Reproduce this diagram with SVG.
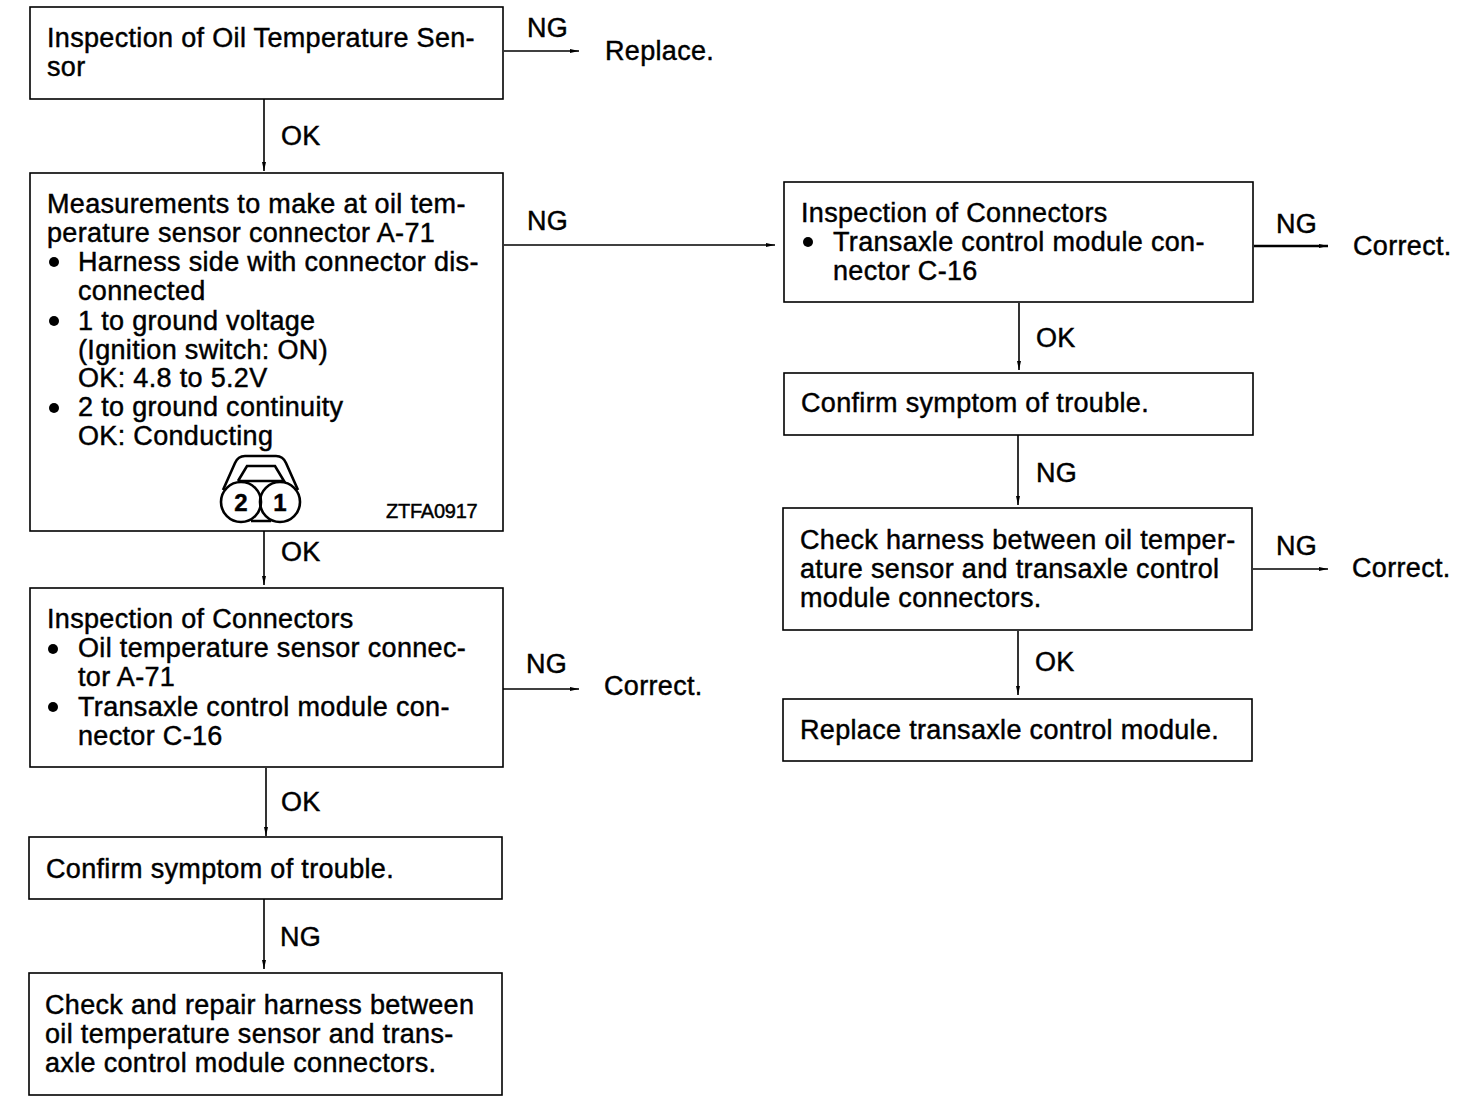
<svg xmlns="http://www.w3.org/2000/svg" width="1472" height="1112" viewBox="0 0 1472 1112">
<defs><marker id="a" markerUnits="userSpaceOnUse" markerWidth="10" markerHeight="6" refX="9" refY="3" orient="auto"><path d="M0 1L9 3L0 5Z" fill="#000"/></marker></defs>
<style>
text{font-family:"Liberation Sans",Arial,sans-serif;font-size:27px;fill:#000;stroke:#000;stroke-width:.45;letter-spacing:.33px}
.b{fill:#fff;stroke:#000;stroke-width:1.6}
.c{fill:none;stroke:#000;stroke-width:1.6;marker-end:url(#a)}
.d{fill:#000;stroke:none}
.l{fill:none;stroke:#000;stroke-width:2.6}
.s{font-size:20px;letter-spacing:-.25px}
.n{font-size:24px;font-weight:bold;letter-spacing:0}
</style>
<rect width="1472" height="1112" fill="#fff"/>
<g id="connectors">
<path class="c" d="M504 51H579"/><path class="c" d="M264 99V171"/><path class="c" d="M504 245H775"/><path class="c" d="M264 531V585"/>
<path class="c" d="M503 689H579"/><path class="c" d="M266 768V836"/><path class="c" d="M264 899V969"/>
<path class="c" style="stroke-width:2.4" d="M1254 246H1328"/><path class="c" d="M1019 303V370"/><path class="c" d="M1018 435V505"/><path class="c" d="M1253 569H1328"/><path class="c" d="M1018 631V695"/>
<text x="281" y="145">OK</text><text x="527" y="37">NG</text><text x="527" y="230">NG</text><text x="281" y="561">OK</text><text x="526" y="673">NG</text><text x="281" y="811">OK</text><text x="280" y="946">NG</text>
<text x="1276" y="233">NG</text><text x="1036" y="347">OK</text><text x="1036" y="482">NG</text><text x="1276" y="555">NG</text><text x="1035" y="671">OK</text>
</g>
<g id="n1"><rect class="b" x="30" y="7" width="473" height="92"/><text x="47" y="47">Inspection of Oil Temperature Sen-</text><text x="47" y="76">sor</text></g>
<g id="r1"><text x="605" y="60">Replace.</text></g>
<g id="n2"><rect class="b" x="30" y="173" width="473" height="358"/>
<text x="47" y="213">Measurements to make at oil tem-</text><text x="47" y="242">perature sensor connector A-71</text>
<circle class="d" cx="54" cy="262" r="5"/><text x="78" y="271">Harness side with connector dis-</text><text x="78" y="300">connected</text>
<circle class="d" cx="54" cy="321" r="5"/><text x="78" y="330">1 to ground voltage</text><text x="78" y="359">(Ignition switch: ON)</text><text x="78" y="387">OK: 4.8 to 5.2V</text>
<circle class="d" cx="54" cy="408" r="5"/><text x="78" y="416">2 to ground continuity</text><text x="78" y="445">OK: Conducting</text>
<circle class="l" cx="241" cy="502" r="20"/><circle class="l" cx="280" cy="502" r="20"/>
<path class="l" d="M223 490L235 463Q238 456 245 456H276Q283 456 286 463L298 490M238 481L247 466H275L284 481H238M251 521H271"/>
<text class="n" x="241" y="511" text-anchor="middle">2</text><text class="n" x="280" y="511" text-anchor="middle">1</text>
<text class="s" x="386" y="518">ZTFA0917</text></g>
<g id="n3"><rect class="b" x="30" y="588" width="473" height="179"/><text x="47" y="628">Inspection of Connectors</text>
<circle class="d" cx="53" cy="649" r="5"/><text x="78" y="657">Oil temperature sensor connec-</text><text x="78" y="686">tor A-71</text>
<circle class="d" cx="53" cy="707" r="5"/><text x="78" y="716">Transaxle control module con-</text><text x="78" y="745">nector C-16</text></g>
<g id="r3"><text x="604" y="695">Correct.</text></g>
<g id="n4"><rect class="b" x="29" y="837" width="473" height="62"/><text x="46" y="878">Confirm symptom of trouble.</text></g>
<g id="n5"><rect class="b" x="29" y="973" width="473" height="122"/><text x="45" y="1014">Check and repair harness between</text><text x="45" y="1043">oil temperature sensor and trans-</text><text x="45" y="1072">axle control module connectors.</text></g>
<g id="n6"><rect class="b" x="784" y="182" width="469" height="120"/><text x="801" y="222">Inspection of Connectors</text><circle class="d" cx="808" cy="242" r="5"/><text x="833" y="251">Transaxle control module con-</text><text x="833" y="280">nector C-16</text></g>
<g id="r6"><text x="1353" y="255">Correct.</text></g>
<g id="n7"><rect class="b" x="784" y="373" width="469" height="62"/><text x="801" y="412">Confirm symptom of trouble.</text></g>
<g id="n8"><rect class="b" x="783" y="508" width="469" height="122"/><text x="800" y="549">Check harness between oil temper-</text><text x="800" y="578">ature sensor and transaxle control</text><text x="800" y="607">module connectors.</text></g>
<g id="r8"><text x="1352" y="577">Correct.</text></g>
<g id="n9"><rect class="b" x="783" y="699" width="469" height="62"/><text x="800" y="739">Replace transaxle control module.</text></g>
</svg>
